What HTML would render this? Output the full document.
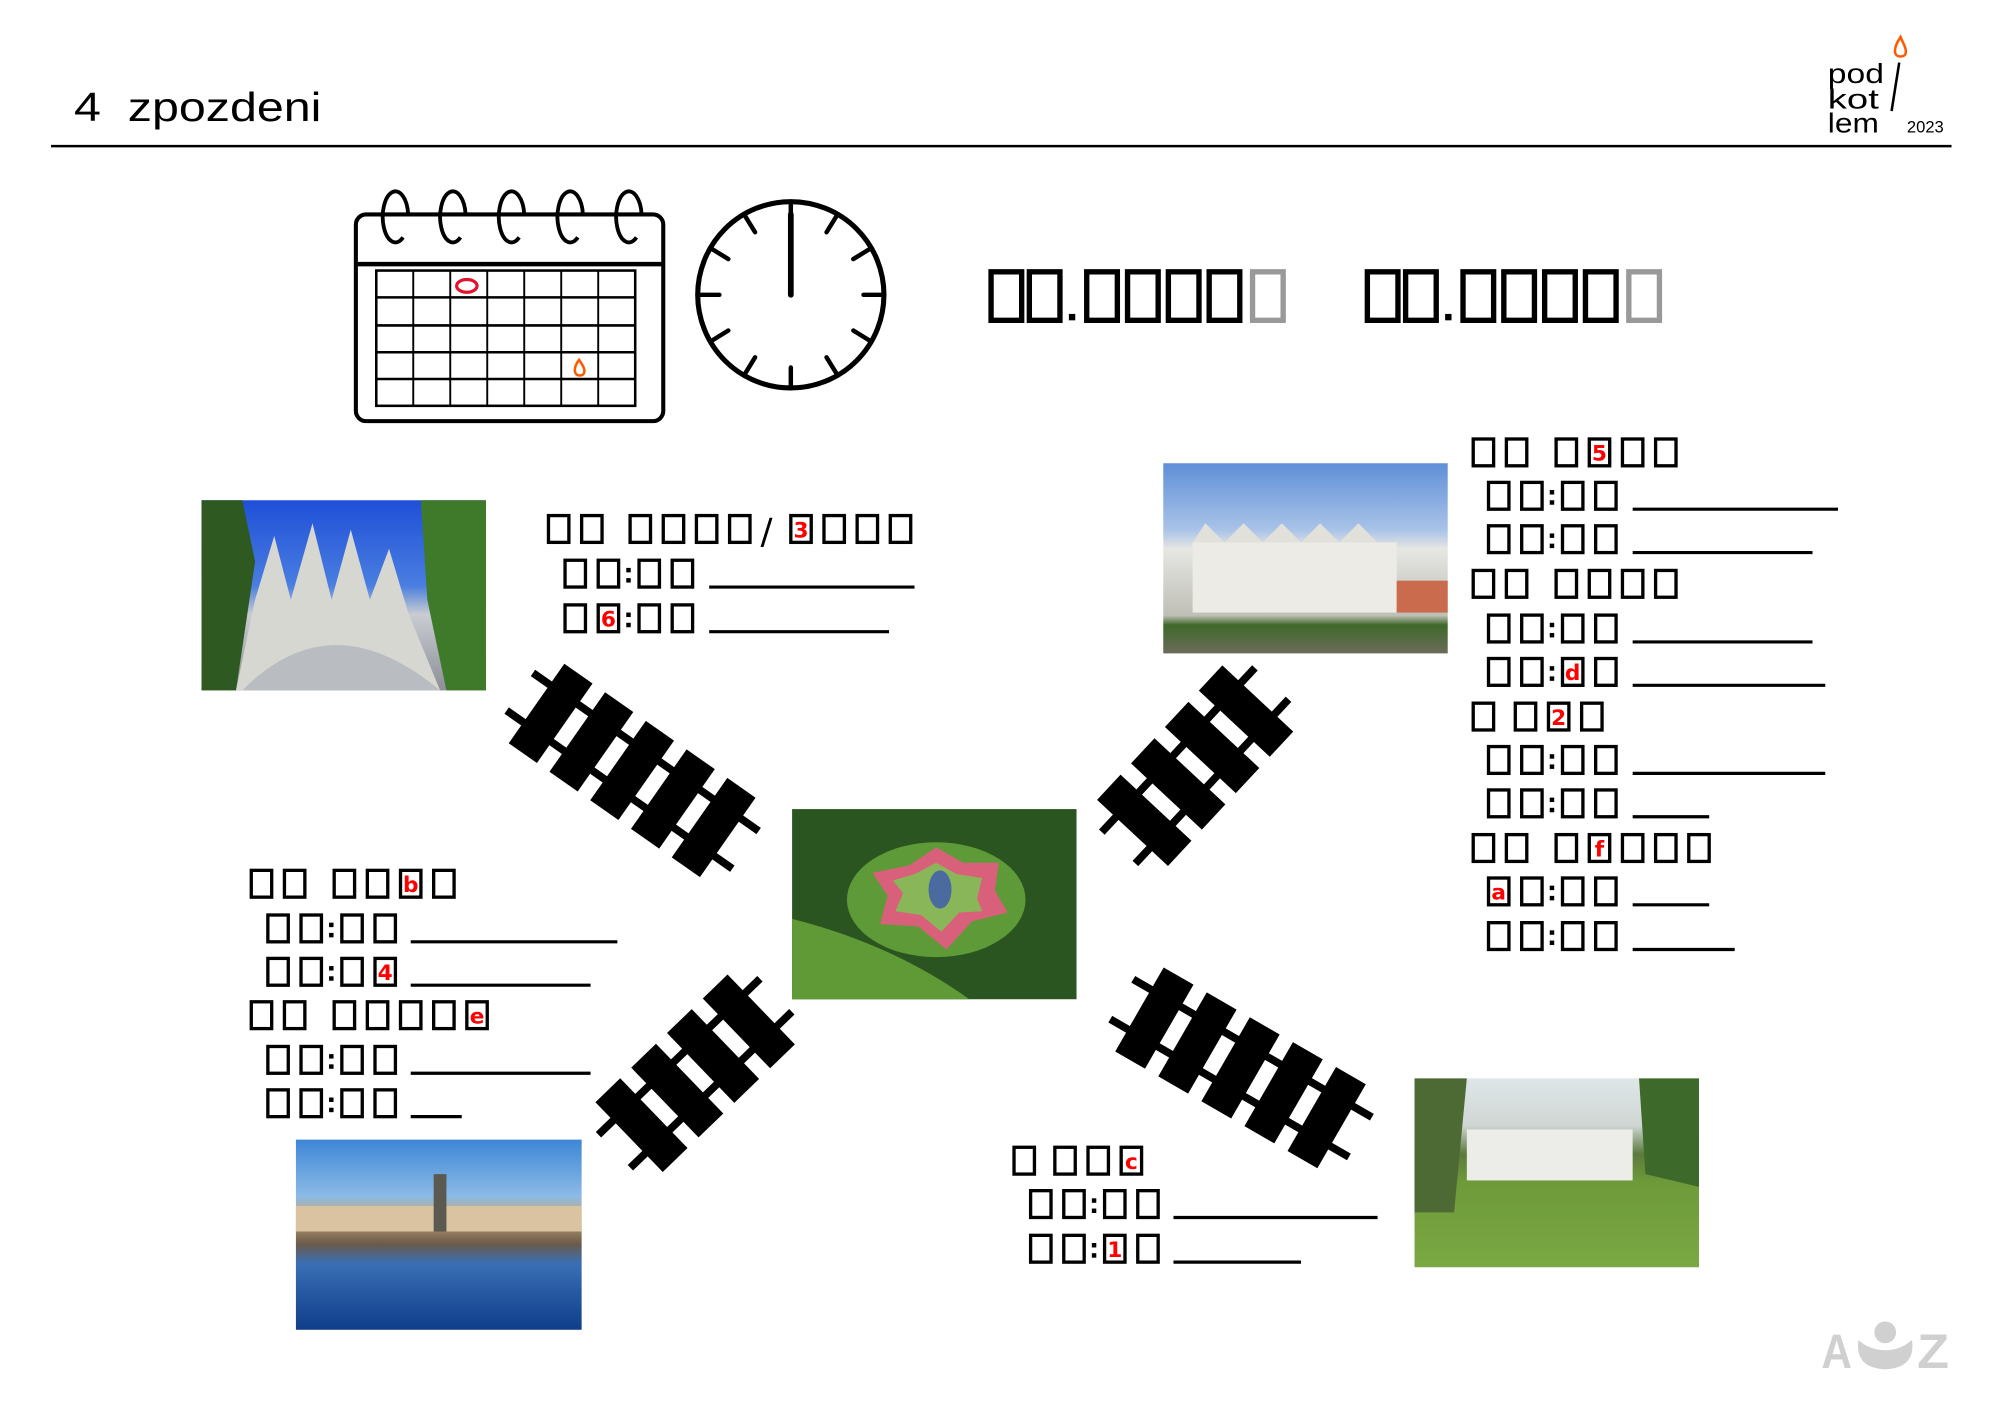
<!DOCTYPE html>
<html><head><meta charset="utf-8"><style>
html,body{margin:0;padding:0;background:#fff;}
svg{display:block;}
</style></head><body>
<svg width="2000" height="1414" viewBox="0 0 1568 1108" preserveAspectRatio="none" xmlns="http://www.w3.org/2000/svg" xmlns:xlink="http://www.w3.org/1999/xlink">
<defs>
<rect id="b" x="0" y="0" width="16" height="21" fill="none" stroke="#000" stroke-width="2.6"/>
<rect id="B" x="0" y="0" width="24" height="38" fill="none" stroke="#000" stroke-width="4.2"/>
<rect id="G" x="0" y="0" width="24" height="38" fill="none" stroke="#999" stroke-width="4.2"/>
<g id="col"><rect x="0" y="-5" width="3.5" height="3.5" fill="#000"/><rect x="0" y="3" width="3.5" height="3.5" fill="#000"/></g>
<g id="t5">
<line x1="-108" y1="-18" x2="108" y2="-18" stroke="#000" stroke-width="6"/>
<line x1="-108" y1="18" x2="108" y2="18" stroke="#000" stroke-width="6"/>
<rect x="-92" y="-38" width="27" height="76"/><rect x="-53" y="-38" width="27" height="76"/><rect x="-14" y="-38" width="27" height="76"/><rect x="25" y="-38" width="27" height="76"/><rect x="64" y="-38" width="27" height="76"/>
</g>
<g id="t4">
<line x1="-88" y1="-18" x2="88" y2="-18" stroke="#000" stroke-width="6"/>
<line x1="-88" y1="18" x2="88" y2="18" stroke="#000" stroke-width="6"/>
<rect x="-72" y="-38" width="27" height="76"/><rect x="-33" y="-38" width="27" height="76"/><rect x="6" y="-38" width="27" height="76"/><rect x="45" y="-38" width="27" height="76"/>
</g>
<linearGradient id="cat" x1="0" y1="0" x2="0" y2="1"><stop offset="0" stop-color="#1f4fd8"/><stop offset="0.45" stop-color="#4a7ee0"/><stop offset="0.6" stop-color="#c9ccd2"/><stop offset="1" stop-color="#8c8f96"/></linearGradient>
<linearGradient id="cas" x1="0" y1="0" x2="0" y2="1"><stop offset="0" stop-color="#5f8fd8"/><stop offset="0.35" stop-color="#a9c3e8"/><stop offset="0.45" stop-color="#e6e6e3"/><stop offset="0.8" stop-color="#bfbfb6"/><stop offset="0.85" stop-color="#3f6a2a"/><stop offset="1" stop-color="#6b6b5a"/></linearGradient>
<linearGradient id="tel" x1="0" y1="0" x2="0" y2="1"><stop offset="0" stop-color="#3d86d6"/><stop offset="0.3" stop-color="#8cbbe6"/><stop offset="0.4" stop-color="#c8a878"/><stop offset="0.55" stop-color="#6a5a4a"/><stop offset="0.65" stop-color="#3a6fb5"/><stop offset="1" stop-color="#0f3d8a"/></linearGradient>
<linearGradient id="tug" x1="0" y1="0" x2="0" y2="1"><stop offset="0" stop-color="#dfe6e9"/><stop offset="0.25" stop-color="#cfd6d3"/><stop offset="0.4" stop-color="#5c7a3c"/><stop offset="0.55" stop-color="#6e9a3a"/><stop offset="1" stop-color="#7aa842"/></linearGradient>
</defs>

<!-- header -->
<text x="58" y="95" font-family="Liberation Sans, sans-serif" font-size="32" textLength="194" lengthAdjust="spacingAndGlyphs" xml:space="preserve">4  zpozdeni</text>
<line x1="40" y1="114.5" x2="1530" y2="114.5" stroke="#000" stroke-width="2"/>
<g font-family="Liberation Sans, sans-serif" font-size="22">
<text x="1433" y="65" textLength="44" lengthAdjust="spacingAndGlyphs">pod</text>
<text x="1433" y="85" textLength="40" lengthAdjust="spacingAndGlyphs">kot</text>
<text x="1433" y="104" textLength="40" lengthAdjust="spacingAndGlyphs">lem</text>
<text x="1495" y="104" font-size="13">2023</text>
</g>
<line x1="1489" y1="49" x2="1483" y2="87" stroke="#000" stroke-width="2"/>
<path d="M1490 29 C1486 35 1485 39 1486 42 C1487 45 1493 45 1494 42 C1495 38 1492 34 1490 29 Z" fill="none" stroke="#ff5a00" stroke-width="2"/>

<!-- calendar -->
<rect x="279" y="168" width="241" height="162" rx="8" fill="none" stroke="#000" stroke-width="3.2"/>
<line x1="279" y1="207" x2="520" y2="207" stroke="#000" stroke-width="3.5"/>
<g fill="none" stroke="#000" stroke-width="3">
<path d="M316 186 A10 20 0 1 1 320 168"/>
<path d="M361 186 A10 20 0 1 1 365 168"/>
<path d="M407 186 A10 20 0 1 1 411 168"/>
<path d="M453 186 A10 20 0 1 1 457 168"/>
<path d="M499 186 A10 20 0 1 1 503 168"/>
</g>
<g stroke="#000" stroke-width="1.5" fill="none">
<rect x="295" y="212" width="203" height="106" stroke-width="2"/>
<line x1="324" y1="212" x2="324" y2="318"/><line x1="353" y1="212" x2="353" y2="318"/><line x1="382" y1="212" x2="382" y2="318"/><line x1="411" y1="212" x2="411" y2="318"/><line x1="440" y1="212" x2="440" y2="318"/><line x1="469" y1="212" x2="469" y2="318"/>
<line x1="295" y1="233" x2="498" y2="233" stroke-width="2"/><line x1="295" y1="255" x2="498" y2="255" stroke-width="2"/><line x1="295" y1="276" x2="498" y2="276" stroke-width="2"/><line x1="295" y1="297" x2="498" y2="297" stroke-width="2"/>
</g>
<ellipse cx="366" cy="224" rx="8" ry="5" fill="none" stroke="#e3122a" stroke-width="2.5"/>
<path d="M454 282 C451 286 450 289 451 292 C452 295 457 295 458 292 C459 289 456 285 454 282 Z" fill="none" stroke="#ff5a00" stroke-width="2"/>

<!-- clock -->
<circle cx="620" cy="231" r="73" fill="none" stroke="#000" stroke-width="4"/>
<g stroke="#000" stroke-width="3.5" stroke-linecap="round">
<line x1="620" y1="160" x2="620" y2="175"/><line x1="620" y1="288" x2="620" y2="302"/>
<line x1="549" y1="231" x2="564" y2="231"/><line x1="677" y1="231" x2="691" y2="231"/>
<line x1="656" y1="169" x2="648" y2="182"/><line x1="682" y1="195" x2="669" y2="203"/>
<line x1="682" y1="267" x2="669" y2="259"/><line x1="656" y1="293" x2="648" y2="280"/>
<line x1="584" y1="293" x2="592" y2="280"/><line x1="558" y1="267" x2="571" y2="259"/>
<line x1="558" y1="195" x2="571" y2="203"/><line x1="584" y1="169" x2="592" y2="182"/>
<line x1="620" y1="168" x2="620" y2="231" stroke-width="4.5"/>
</g>

<!-- big tofu -->
<use xlink:href="#B" x="777" y="213"/><use xlink:href="#B" x="807" y="213"/>
<rect x="838" y="246" width="5" height="5"/>
<use xlink:href="#B" x="852" y="213"/><use xlink:href="#B" x="884" y="213"/><use xlink:href="#B" x="916" y="213"/><use xlink:href="#B" x="948" y="213"/><use xlink:href="#G" x="982" y="213"/>
<use xlink:href="#B" x="1072" y="213"/><use xlink:href="#B" x="1102" y="213"/>
<rect x="1133" y="246" width="5" height="5"/>
<use xlink:href="#B" x="1147" y="213"/><use xlink:href="#B" x="1179" y="213"/><use xlink:href="#B" x="1211" y="213"/><use xlink:href="#B" x="1243" y="213"/><use xlink:href="#G" x="1277" y="213"/>

<!-- photos -->
<rect x="158" y="392" width="223" height="149" fill="url(#cat)"/>
<path d="M158 392 L190 392 L200 440 L185 541 L158 541 Z" fill="#2e5a22"/>
<path d="M330 392 L381 392 L381 541 L350 541 L335 470 Z" fill="#3f7a2a"/>
<path d="M185 541 L200 470 L215 420 L228 470 L245 410 L260 470 L275 415 L290 470 L305 430 L320 480 L345 541 Z" fill="#d7d7d2"/>
<path d="M190 541 Q260 470 345 541 Z" fill="#b9bcc0"/>
<rect x="912" y="363" width="223" height="149" fill="url(#cas)"/>
<rect x="935" y="425" width="160" height="55" fill="#ecebe6"/>
<path d="M935 425 L945 410 L960 425 L975 410 L990 425 L1005 410 L1020 425 L1035 410 L1050 425 L1065 410 L1080 425 L1095 425 Z" fill="#e2e0da"/>
<rect x="1095" y="455" width="40" height="25" fill="#c96b4c"/>
<rect x="621" y="634" width="223" height="149" fill="#2a5520"/>
<path d="M621 720 Q700 740 760 783 L621 783 Z" fill="#5f9a36"/>
<ellipse cx="734" cy="705" rx="70" ry="45" fill="#5e9a38"/>
<polygon points="734,664 755,676 783,676 780,698 790,715 762,722 742,744 720,726 690,724 696,702 684,684 713,678" fill="#d9607a"/>
<polygon points="734,676 750,685 770,688 766,704 770,714 752,715 738,730 722,717 702,714 708,700 700,690 717,685" fill="#8ab65a"/>
<ellipse cx="737" cy="697" rx="9" ry="15" fill="#4a6aa0"/>
<rect x="232" y="893" width="224" height="149" fill="url(#tel)"/>
<rect x="232" y="945" width="224" height="20" fill="#d9c3a0"/>
<rect x="340" y="920" width="10" height="45" fill="#5a5a50"/>
<rect x="1109" y="845" width="223" height="148" fill="url(#tug)"/>
<rect x="1150" y="885" width="130" height="40" fill="#ecece8"/>
<path d="M1109 845 L1150 845 L1140 950 L1109 950 Z" fill="#4d6a35"/>
<path d="M1285 845 L1332 845 L1332 930 L1290 920 Z" fill="#3d6a2a"/>

<!-- tracks -->
<use xlink:href="#t5" transform="translate(496,604) rotate(35)"/>
<use xlink:href="#t4" transform="translate(937,600) rotate(-47)"/>
<use xlink:href="#t4" transform="translate(545,841) rotate(-44)"/>
<use xlink:href="#t5" transform="translate(973,837) rotate(30)"/>

<g font-family="DejaVu Sans, Liberation Sans, sans-serif" font-size="17" font-weight="bold" fill="#ff0000" text-anchor="middle">
<!-- top-left block -->
<use xlink:href="#b" x="430" y="404"/><use xlink:href="#b" x="456" y="404"/>
<use xlink:href="#b" x="494" y="404"/><use xlink:href="#b" x="520" y="404"/><use xlink:href="#b" x="546" y="404"/><use xlink:href="#b" x="572" y="404"/>
<text x="601" y="426" fill="#000" font-size="28" font-weight="normal">/</text>
<use xlink:href="#b" x="620" y="404"/><text x="628" y="421">3</text>
<use xlink:href="#b" x="646" y="404"/><use xlink:href="#b" x="672" y="404"/><use xlink:href="#b" x="698" y="404"/>
<use xlink:href="#b" x="443" y="439"/><use xlink:href="#b" x="469" y="439"/><use xlink:href="#col" x="491" y="450"/><use xlink:href="#b" x="501" y="439"/><use xlink:href="#b" x="527" y="439"/>
<line x1="556" y1="460" x2="717" y2="460" stroke="#000" stroke-width="2.5"/>
<use xlink:href="#b" x="443" y="474"/><use xlink:href="#b" x="469" y="474"/><text x="477" y="491">6</text><use xlink:href="#col" x="491" y="485"/><use xlink:href="#b" x="501" y="474"/><use xlink:href="#b" x="527" y="474"/>
<line x1="556" y1="495" x2="697" y2="495" stroke="#000" stroke-width="2.5"/>

<!-- right block -->
<use xlink:href="#b" x="1155" y="344"/><use xlink:href="#b" x="1181" y="344"/><use xlink:href="#b" x="1220" y="344"/><use xlink:href="#b" x="1246" y="344"/><text x="1254" y="361">5</text><use xlink:href="#b" x="1272" y="344"/><use xlink:href="#b" x="1298" y="344"/>
<use xlink:href="#b" x="1167" y="378"/><use xlink:href="#b" x="1193" y="378"/><use xlink:href="#col" x="1215" y="389"/><use xlink:href="#b" x="1225" y="378"/><use xlink:href="#b" x="1251" y="378"/>
<line x1="1280" y1="399" x2="1441" y2="399" stroke="#000" stroke-width="2.5"/>
<use xlink:href="#b" x="1167" y="412"/><use xlink:href="#b" x="1193" y="412"/><use xlink:href="#col" x="1215" y="423"/><use xlink:href="#b" x="1225" y="412"/><use xlink:href="#b" x="1251" y="412"/>
<line x1="1280" y1="433" x2="1421" y2="433" stroke="#000" stroke-width="2.5"/>
<use xlink:href="#b" x="1155" y="447"/><use xlink:href="#b" x="1181" y="447"/><use xlink:href="#b" x="1220" y="447"/><use xlink:href="#b" x="1246" y="447"/><use xlink:href="#b" x="1272" y="447"/><use xlink:href="#b" x="1298" y="447"/>
<use xlink:href="#b" x="1167" y="482"/><use xlink:href="#b" x="1193" y="482"/><use xlink:href="#col" x="1215" y="493"/><use xlink:href="#b" x="1225" y="482"/><use xlink:href="#b" x="1251" y="482"/>
<line x1="1280" y1="503" x2="1421" y2="503" stroke="#000" stroke-width="2.5"/>
<use xlink:href="#b" x="1167" y="516"/><use xlink:href="#b" x="1193" y="516"/><use xlink:href="#col" x="1215" y="527"/><use xlink:href="#b" x="1225" y="516"/><text x="1233" y="533">d</text><use xlink:href="#b" x="1251" y="516"/>
<line x1="1280" y1="537" x2="1431" y2="537" stroke="#000" stroke-width="2.5"/>
<use xlink:href="#b" x="1155" y="551"/><use xlink:href="#b" x="1188" y="551"/><use xlink:href="#b" x="1214" y="551"/><text x="1222" y="568">2</text><use xlink:href="#b" x="1240" y="551"/>
<use xlink:href="#b" x="1167" y="585"/><use xlink:href="#b" x="1193" y="585"/><use xlink:href="#col" x="1215" y="596"/><use xlink:href="#b" x="1225" y="585"/><use xlink:href="#b" x="1251" y="585"/>
<line x1="1280" y1="606" x2="1431" y2="606" stroke="#000" stroke-width="2.5"/>
<use xlink:href="#b" x="1167" y="619"/><use xlink:href="#b" x="1193" y="619"/><use xlink:href="#col" x="1215" y="630"/><use xlink:href="#b" x="1225" y="619"/><use xlink:href="#b" x="1251" y="619"/>
<line x1="1280" y1="640" x2="1340" y2="640" stroke="#000" stroke-width="2.5"/>
<use xlink:href="#b" x="1155" y="654"/><use xlink:href="#b" x="1181" y="654"/><use xlink:href="#b" x="1220" y="654"/><use xlink:href="#b" x="1246" y="654"/><text x="1254" y="671">f</text><use xlink:href="#b" x="1272" y="654"/><use xlink:href="#b" x="1298" y="654"/><use xlink:href="#b" x="1324" y="654"/>
<use xlink:href="#b" x="1167" y="688"/><text x="1175" y="705">a</text><use xlink:href="#b" x="1193" y="688"/><use xlink:href="#col" x="1215" y="699"/><use xlink:href="#b" x="1225" y="688"/><use xlink:href="#b" x="1251" y="688"/>
<line x1="1280" y1="709" x2="1340" y2="709" stroke="#000" stroke-width="2.5"/>
<use xlink:href="#b" x="1167" y="723"/><use xlink:href="#b" x="1193" y="723"/><use xlink:href="#col" x="1215" y="734"/><use xlink:href="#b" x="1225" y="723"/><use xlink:href="#b" x="1251" y="723"/>
<line x1="1280" y1="744" x2="1360" y2="744" stroke="#000" stroke-width="2.5"/>

<!-- left middle block -->
<use xlink:href="#b" x="197" y="682"/><use xlink:href="#b" x="223" y="682"/><use xlink:href="#b" x="262" y="682"/><use xlink:href="#b" x="288" y="682"/><use xlink:href="#b" x="314" y="682"/><text x="322" y="699">b</text><use xlink:href="#b" x="340" y="682"/>
<use xlink:href="#b" x="210" y="717"/><use xlink:href="#b" x="236" y="717"/><use xlink:href="#col" x="258" y="728"/><use xlink:href="#b" x="268" y="717"/><use xlink:href="#b" x="294" y="717"/>
<line x1="322" y1="738" x2="484" y2="738" stroke="#000" stroke-width="2.5"/>
<use xlink:href="#b" x="210" y="751"/><use xlink:href="#b" x="236" y="751"/><use xlink:href="#col" x="258" y="762"/><use xlink:href="#b" x="268" y="751"/><use xlink:href="#b" x="294" y="751"/><text x="302" y="768">4</text>
<line x1="322" y1="772" x2="463" y2="772" stroke="#000" stroke-width="2.5"/>
<use xlink:href="#b" x="197" y="785"/><use xlink:href="#b" x="223" y="785"/><use xlink:href="#b" x="262" y="785"/><use xlink:href="#b" x="288" y="785"/><use xlink:href="#b" x="314" y="785"/><use xlink:href="#b" x="340" y="785"/><use xlink:href="#b" x="366" y="785"/><text x="374" y="802">e</text>
<use xlink:href="#b" x="210" y="820"/><use xlink:href="#b" x="236" y="820"/><use xlink:href="#col" x="258" y="831"/><use xlink:href="#b" x="268" y="820"/><use xlink:href="#b" x="294" y="820"/>
<line x1="322" y1="841" x2="463" y2="841" stroke="#000" stroke-width="2.5"/>
<use xlink:href="#b" x="210" y="854"/><use xlink:href="#b" x="236" y="854"/><use xlink:href="#col" x="258" y="865"/><use xlink:href="#b" x="268" y="854"/><use xlink:href="#b" x="294" y="854"/>
<line x1="322" y1="875" x2="362" y2="875" stroke="#000" stroke-width="2.5"/>

<!-- bottom block -->
<use xlink:href="#b" x="795" y="899"/><use xlink:href="#b" x="827" y="899"/><use xlink:href="#b" x="853" y="899"/><use xlink:href="#b" x="879" y="899"/><text x="887" y="916">c</text>
<use xlink:href="#b" x="808" y="933"/><use xlink:href="#b" x="834" y="933"/><use xlink:href="#col" x="856" y="944"/><use xlink:href="#b" x="866" y="933"/><use xlink:href="#b" x="892" y="933"/>
<line x1="920" y1="954" x2="1080" y2="954" stroke="#000" stroke-width="2.5"/>
<use xlink:href="#b" x="808" y="968"/><use xlink:href="#b" x="834" y="968"/><use xlink:href="#col" x="856" y="979"/><use xlink:href="#b" x="866" y="968"/><text x="874" y="985">1</text><use xlink:href="#b" x="892" y="968"/>
<line x1="920" y1="989" x2="1020" y2="989" stroke="#000" stroke-width="2.5"/>
</g>

<!-- AZ logo -->
<g fill="#d0d0d0" stroke="none">
<text x="1428" y="1072" font-family="Liberation Sans, sans-serif" font-weight="bold" font-size="38" textLength="24" lengthAdjust="spacingAndGlyphs">A</text>
<circle cx="1478" cy="1044" r="8.5"/>
<path d="M1457 1050 Q1466 1058 1478 1058 Q1490 1058 1499 1050 Q1502 1072 1478 1073 Q1454 1072 1457 1050 Z"/>
<text x="1503" y="1072" font-family="Liberation Sans, sans-serif" font-weight="bold" font-size="38" textLength="25" lengthAdjust="spacingAndGlyphs">Z</text>
</g>
</svg>
</body></html>
